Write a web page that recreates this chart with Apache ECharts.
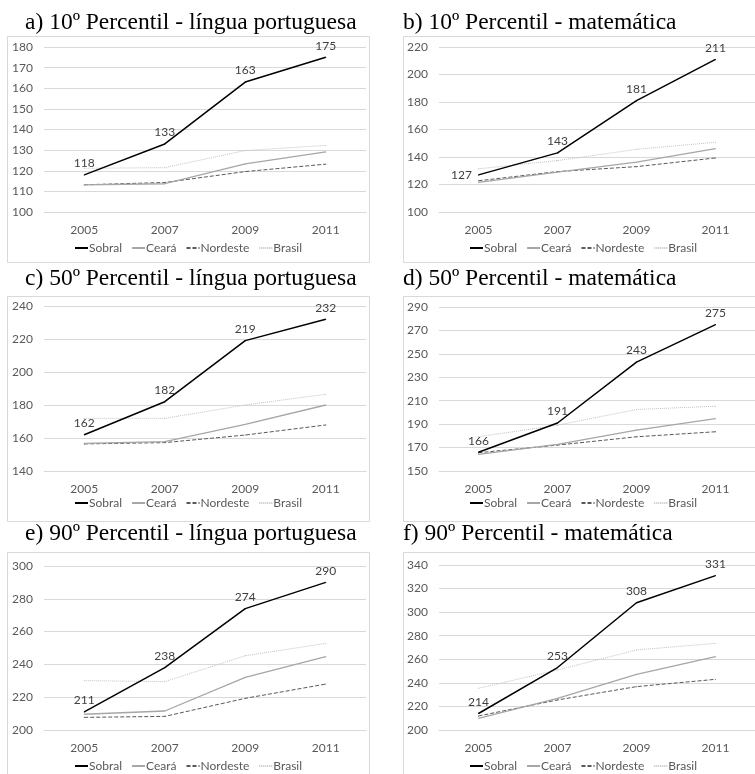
<!DOCTYPE html>
<html>
<head>
<meta charset="utf-8">
<script src="https://cdn.jsdelivr.net/npm/echarts@6/dist/echarts.min.js"></script>
<style>
html,body{margin:0;padding:0;background:#fff;}
#chart{width:755px;height:774px;}
</style>
</head>
<body>
<div id="chart"></div>
<script>
// ---- Data ----
const years = ['2005', '2007', '2009', '2011'];
const seriesNames = ['Sobral', 'Ceará', 'Nordeste', 'Brasil'];

const panelTitles = [
  'a) 10º Percentil - língua portuguesa',
  'b) 10º Percentil - matemática',
  'c) 50º Percentil - língua portuguesa',
  'd) 50º Percentil - matemática',
  'e) 90º Percentil - língua portuguesa',
  'f) 90º Percentil - matemática'
];

// a) 10th percentile - Portuguese
const p10Port_Sobral   = [118, 133, 163, 175];
const p10Port_Ceara    = [113.2, 113.7, 123.3, 129.1];
const p10Port_Nordeste = [113.2, 114.3, 119.6, 123.2];
const p10Port_Brasil   = [121.2, 121.5, 129.8, 132.3];
// b) 10th percentile - Math
const p10Mat_Sobral   = [127, 143, 181, 211];
const p10Mat_Ceara    = [121.6, 129.0, 136.2, 146.1];
const p10Mat_Nordeste = [122.7, 129.4, 133.0, 139.3];
const p10Mat_Brasil   = [131.4, 137.4, 145.6, 150.7];
// c) 50th percentile - Portuguese
const p50Port_Sobral   = [162, 182, 219, 232];
const p50Port_Ceara    = [156.8, 157.8, 168.3, 180.0];
const p50Port_Nordeste = [156.4, 157.2, 161.8, 167.9];
const p50Port_Brasil   = [171.9, 171.9, 180.0, 186.5];
// d) 50th percentile - Math
const p50Mat_Sobral   = [166, 191, 243, 275];
const p50Mat_Ceara    = [164.2, 172.7, 184.9, 194.8];
const p50Mat_Nordeste = [165.6, 172.1, 179.2, 183.5];
const p50Mat_Brasil   = [179.2, 189.1, 202.5, 205.3];
// e) 90th percentile - Portuguese
const p90Port_Sobral   = [211, 238, 274, 290];
const p90Port_Ceara    = [209.6, 211.6, 232.1, 244.7];
const p90Port_Nordeste = [207.7, 208.3, 219.3, 228.0];
const p90Port_Brasil   = [230.1, 229.5, 245.3, 252.8];
// f) 90th percentile - Math
const p90Mat_Sobral   = [214, 253, 308, 331];
const p90Mat_Ceara    = [209.9, 226.9, 247.2, 262.2];
const p90Mat_Nordeste = [211.9, 225.5, 236.8, 243.0];
const p90Mat_Brasil   = [235.4, 250.9, 267.9, 273.5];

// y-axis ranges (tick labels)
const yMin      = [100, 100, 140, 150, 200, 200];
const yMax      = [180, 220, 240, 290, 300, 340];
const yInterval = [10, 20, 20, 20, 20, 20];

const panelData = [
  [p10Port_Sobral, p10Port_Ceara, p10Port_Nordeste, p10Port_Brasil],
  [p10Mat_Sobral, p10Mat_Ceara, p10Mat_Nordeste, p10Mat_Brasil],
  [p50Port_Sobral, p50Port_Ceara, p50Port_Nordeste, p50Port_Brasil],
  [p50Mat_Sobral, p50Mat_Ceara, p50Mat_Nordeste, p50Mat_Brasil],
  [p90Port_Sobral, p90Port_Ceara, p90Port_Nordeste, p90Port_Brasil],
  [p90Mat_Sobral, p90Mat_Ceara, p90Mat_Nordeste, p90Mat_Brasil]
];

// ---- Layout ----
const sans = 'Lato, "Open Sans", sans-serif';
const serif = '"Liberation Serif", "DejaVu Serif", serif';
const grids = [
  {left: 44,  right: 389, top: 47,  height: 165},
  {left: 439, right: 0,   top: 47,  height: 165},
  {left: 44,  right: 389, top: 306, height: 165},
  {left: 439, right: 0,   top: 307, height: 164},
  {left: 44,  right: 389, top: 566, height: 164},
  {left: 439, right: 0,   top: 565, height: 165}
];
const boxes = [
  {x: 7,   y: 36,  w: 362, h: 226},
  {x: 403, y: 36,  w: 362, h: 226},
  {x: 7,   y: 296, w: 362, h: 225},
  {x: 403, y: 296, w: 362, h: 225},
  {x: 7,   y: 552, w: 362, h: 225},
  {x: 403, y: 552, w: 362, h: 225}
];
const titlePos = [
  {left: 25, top: 11}, {left: 403, top: 11},
  {left: 25, top: 267}, {left: 403, top: 267},
  {left: 25, top: 522}, {left: 403, top: 522}
];
const legendPos = [
  {left: 74, top: 242}, {left: 469, top: 242},
  {left: 74, top: 497}, {left: 469, top: 497},
  {left: 74, top: 760}, {left: 469, top: 760}
];

const lineStyles = [
  {color: '#000000', width: 1.5, type: 'solid'},
  {color: '#a6a6a6', width: 1.3, type: 'solid'},
  {color: '#595959', width: 1, type: [4, 2]},
  {color: '#c4c4c4', width: 1, type: [1, 1]}
];

const option = {
  animation: false,
  backgroundColor: '#ffffff',
  title: panelTitles.map((t, i) => ({
    text: t, left: titlePos[i].left, top: titlePos[i].top, padding: 0,
    textStyle: {fontFamily: serif, fontSize: 23.5, fontWeight: 'normal', color: '#000'}
  })),
  legend: legendPos.map((p, i) => ({
    data: seriesNames, left: p.left, top: p.top, padding: 0,
    itemWidth: 13, itemHeight: 10, itemGap: 9,
    itemStyle: {opacity: 0},
    textStyle: {fontFamily: sans, fontSize: 12, color: '#595959', padding: [0, 0, 0, -4]},
    selectedMode: false
  })),
  graphic: boxes.map(b => ({
    type: 'rect', shape: {x: b.x + 0.5, y: b.y + 0.5, width: b.w, height: b.h},
    style: {fill: 'none', stroke: '#d9d9d9', lineWidth: 1}, silent: true
  })),
  grid: grids,
  xAxis: grids.map((g, i) => ({
    type: 'category', gridIndex: i, data: years, boundaryGap: true,
    axisLine: {show: true, lineStyle: {color: '#d9d9d9'}},
    axisTick: {show: false},
    axisLabel: {fontFamily: sans, fontSize: 12, color: '#595959', margin: 12}
  })),
  yAxis: grids.map((g, i) => ({
    type: 'value', gridIndex: i, min: yMin[i], max: yMax[i], interval: yInterval[i],
    axisLine: {show: false}, axisTick: {show: false},
    splitLine: {lineStyle: {color: '#d9d9d9', width: 1}},
    axisLabel: {fontFamily: sans, fontSize: 12, color: '#595959', margin: 11}
  })),
  series: []
};

panelData.forEach((arrs, i) => {
  arrs.forEach((vals, k) => {
    const isSobral = k === 0;
    option.series.push({
      type: 'line', name: seriesNames[k], xAxisIndex: i, yAxisIndex: i,
      symbol: 'circle', symbolSize: 1, showSymbol: true, smooth: false,
      lineStyle: lineStyles[k],
      itemStyle: {color: lineStyles[k].color},
      z: 10 - k,
      data: vals.map((v, j) => {
        if (isSobral && i === 1 && j === 0) {
          return {value: v, label: {position: 'left', distance: 6}};
        }
        return v;
      }),
      label: isSobral ? {
        show: true, position: 'top', distance: 5,
        fontFamily: sans, fontSize: 12, color: '#404040'
      } : {show: false}
    });
  });
});

const chart = echarts.init(document.getElementById('chart'), null, {renderer: 'canvas'});
chart.setOption(option);
</script>
</body>
</html>
